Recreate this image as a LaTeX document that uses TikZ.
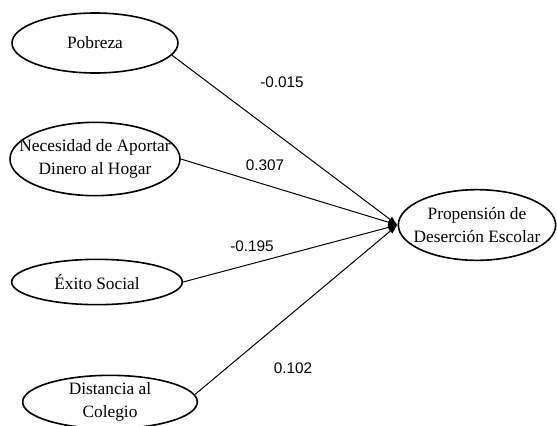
\documentclass[tikz,border=0pt]{standalone}
\usepackage{fontspec}
\setmainfont{Liberation Serif}
\newfontfamily\numfont{Liberation Sans}
\usetikzlibrary{shapes.geometric,arrows.meta}
\tikzset{
  var/.style={draw,ellipse,line width=1.2pt,inner sep=0pt},
  vartext/.style={align=center,inner sep=0pt,font=\fontsize{13}{17}\selectfont},
  path/.style={line width=0.75pt,-{Latex[length=7pt,width=5pt]}},
  coef/.style={font=\numfont\fontsize{11.5}{13}\selectfont}
}
\begin{document}
\begin{tikzpicture}[x=0.75pt,y=-0.75pt]
        \useasboundingbox (0,0) rectangle (557,425);
        % predictors
        \node[var,minimum width=124.5pt,minimum height=45pt] (pob) at (95,43) {};
        \node[vartext] (pob-t) at (pob) {Pobreza};
        \node[var,minimum width=127.5pt,minimum height=55pt] (nec) at (95,159) {};
        \node[vartext] (nec-t) at (nec) {Necesidad de Aportar\\Dinero al Hogar};
        \node[var,minimum width=128pt,minimum height=34pt] (exi) at (97,282) {};
        \node[vartext] (exi-t) at (exi) {Éxito Social};
        \node[var,minimum width=131pt,minimum height=40pt] (dis) at (110,402) {};
        \node[vartext] (dis-t) at (dis) {Distancia al\\Colegio};
        % outcome
        \node[var,minimum width=118pt,minimum height=53pt] (pde) at (477,225) {};
        \node[vartext] (pde-t) at (pde) {Propensión de\\Deserción Escolar};
        % paths
        \draw[path] (pob.-9) -- (pde.west);
        \draw[path] (nec.east) -- (pde.west);
        \draw[path] (exi.east) -- (pde.west);
        \draw[path] (dis.5) -- (pde.west);
        % coefficients
        \node[coef] (c1) at (282,82) {-0.015};
        \node[coef] (c2) at (265,165) {0.307};
        \node[coef] (c3) at (252,246) {-0.195};
        \node[coef] (c4) at (293,368) {0.102};
    \end{tikzpicture}
\end{document}
